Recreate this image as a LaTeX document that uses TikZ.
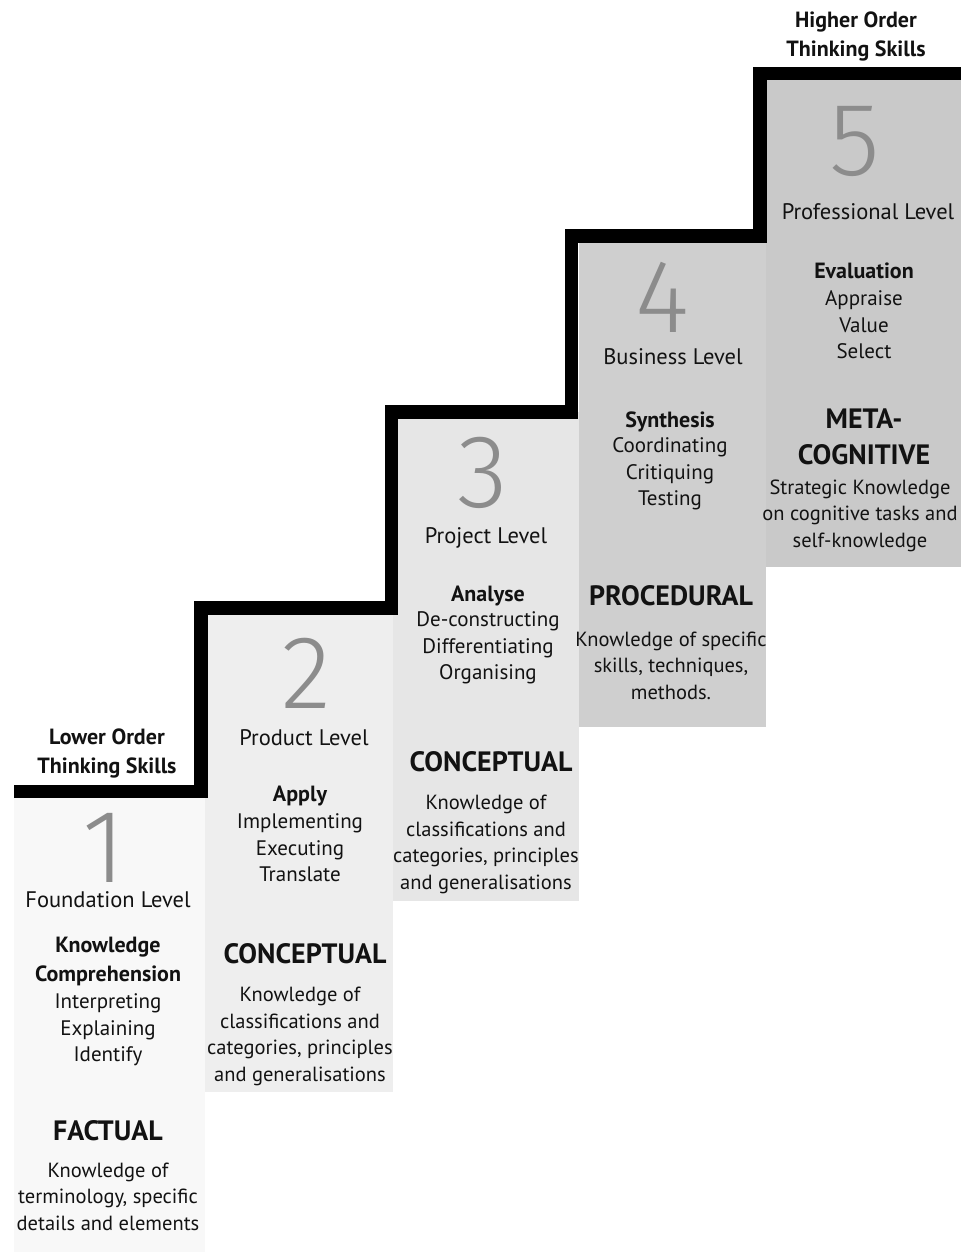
\documentclass[tikz,border=0pt]{standalone}
\usepackage{fontspec}
\setmainfont{PT Sans}
\newfontfamily\digitfont{Fira Sans Light}

\definecolor{ink}{HTML}{121212}
\definecolor{digitgray}{HTML}{8C8C8C}
\definecolor{stepA}{HTML}{F8F8F8}
\definecolor{stepB}{HTML}{EEEEEE}
\definecolor{stepC}{HTML}{E6E6E6}
\definecolor{stepD}{HTML}{CFCFCF}
\definecolor{stepE}{HTML}{C9C9C9}

\tikzset{
  txt/.style={text=ink, inner sep=0pt, align=center},
  lvl/.style={txt, font=\fontsize{22.5}{26.5}\selectfont, text height=16pt, text depth=5pt, yshift=-3pt},
  verbs/.style={txt, font=\fontsize{21}{26.5}\selectfont, yshift=-1.5pt},
  head/.style={txt, font=\bfseries\fontsize{22}{29}\selectfont, yshift=-1.5pt},
  headone/.style={txt, font=\bfseries\fontsize{22}{29}\selectfont, text height=16pt, text depth=5pt, yshift=-2.5pt},
  kind/.style={txt, font=\bfseries\fontsize{28}{36}\selectfont, text height=20pt, text depth=6pt, yshift=-3pt},
  kindtwo/.style={txt, font=\bfseries\fontsize{28}{36}\selectfont, yshift=-2pt},
  desc/.style={txt, font=\fontsize{20.5}{26.5}\selectfont, yshift=-1pt},
  digit/.style={font=\digitfont\fontsize{104}{104}\selectfont, text=digitgray, anchor=base,
    inner sep=0pt, text height=72pt, text depth=0pt},
  stair/.style={line width=13.5pt, line join=miter, draw=black},
}

\begin{document}
\begin{tikzpicture}[x=1pt, y=-1pt]
\useasboundingbox (0,0) rectangle (961,1253);

% step backgrounds
\fill[stepA] (14,791) rectangle (205,1252);
\fill[stepB] (205,608) rectangle (393,1092);
\fill[stepC] (393,412) rectangle (579,901);
\fill[stepD] (579,236) rectangle (766,727);
\fill[stepE] (766,73) rectangle (961,567);

% staircase outline
\draw[stair] (14,791.5) -- (201,791.5) -- (201,608) -- (391.5,608) -- (391.5,412)
  -- (571.5,412) -- (571.5,236) -- (760,236) -- (760,73.5) -- (961,73.5);

% labels above the ends of the stair
\node[head] (lower) at (107,752) {Lower Order\\Thinking Skills};
\node[head] (higher) at (856,34.5) {Higher Order\\Thinking Skills};

% step 1
\node[digit] (d1) at (104,882) {1};
\node[lvl] (l1) at (108,899) {Foundation Level};
\node[head] (h1) at (108,959.5) {Knowledge\\Comprehension};
\node[verbs] (v1) at (108,1028.5) {Interpreting\\Explaining\\Identify};
\node[kind] (k1) at (108,1130) {FACTUAL};
\node[desc] (t1) at (108,1195.5) {Knowledge of\\terminology, specific\\details and elements};

% step 2
\node[digit] (d2) at (306,708) {2};
\node[lvl] (l2) at (304,737) {Product Level};
\node[headone] (h2) at (300,793) {Apply};
\node[verbs] (v2) at (300,846.5) {Implementing\\Executing\\Translate};
\node[kind] (k2) at (305,953) {CONCEPTUAL};
\node[desc] (t2) at (300,1035.5) {Knowledge of\\classifications and\\categories, principles\\and generalisations};

% step 3
\node[digit] (d3) at (483,507) {3};
\node[lvl] (l3) at (486,535) {Project Level};
\node[headone] (h3) at (488,593) {Analyse};
\node[verbs] (v3) at (488,646.5) {De-constructing\\Differentiating\\Organising};
\node[kind] (k3) at (491,761) {CONCEPTUAL};
\node[desc] (t3) at (486,843.5) {Knowledge of\\classifications and\\categories, principles\\and generalisations};

% step 4
\node[digit] (d4) at (662,332) {4};
\node[lvl] (l4) at (673,356) {Business Level};
\node[headone] (h4) at (670,419) {Synthesis};
\node[verbs] (v4) at (670,472.5) {Coordinating\\Critiquing\\Testing};
\node[kind] (k4) at (671,595) {PROCEDURAL};
\node[desc] (t4) at (671,664.5) {Knowledge of specific\\skills, techniques,\\methods.};

% step 5
\node[digit] (d5) at (855,175) {5};
\node[lvl] (l5) at (868,211) {Professional Level};
\node[headone] (h5) at (864,270) {Evaluation};
\node[verbs] (v5) at (864,323.5) {Appraise\\Value\\Select};
\node[kindtwo] (k5) at (864,435) {META-\\COGNITIVE};
\node[desc] (t5) at (860,514.5) {Strategic Knowledge\\on cognitive tasks and\\self-knowledge};
\end{tikzpicture}
\end{document}
